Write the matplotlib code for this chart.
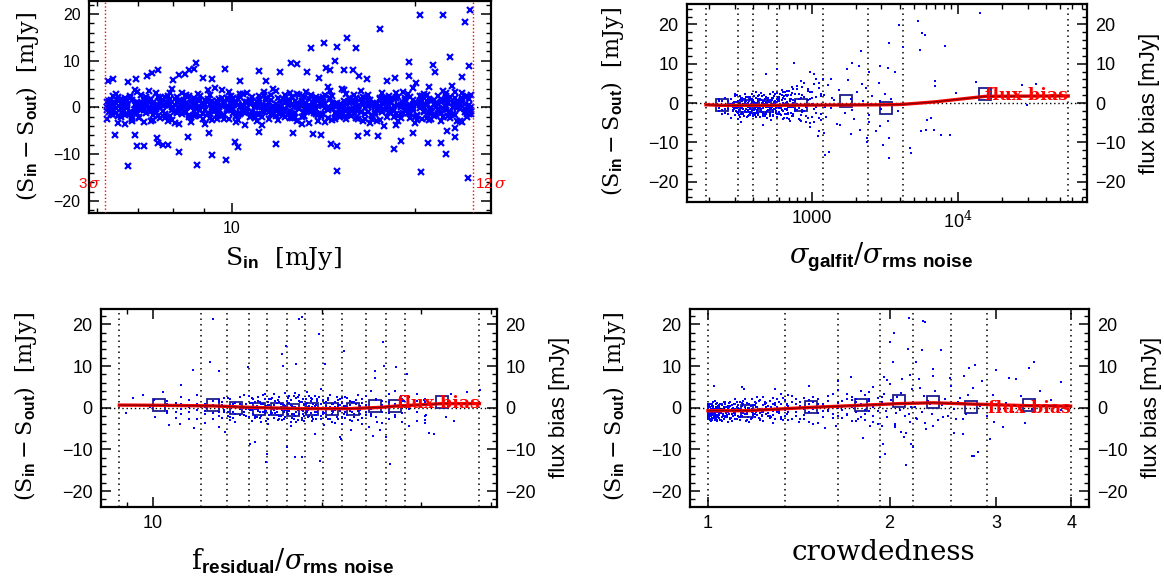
import numpy as np
import matplotlib
matplotlib.use('Agg')
import matplotlib.pyplot as plt
from matplotlib.ticker import FixedLocator, FixedFormatter, NullFormatter, MultipleLocator

plt.rcParams['font.family'] = ['Liberation Sans', 'DejaVu Sans']
plt.rcParams['mathtext.fontset'] = 'custom'
plt.rcParams['mathtext.rm'] = 'DejaVu Serif'
plt.rcParams['mathtext.it'] = 'DejaVu Serif:italic'
plt.rcParams['mathtext.sf'] = 'Liberation Sans:bold'
plt.rcParams['mathtext.bf'] = 'DejaVu Serif:bold'

# ---------------- Panel 1 : S_in vs (S_in - S_out) ----------------
p1_sigma_lines = [6.19, 24.9]
p1_sigma_labels = ['3$\\,\\sigma$', '12$\\,\\sigma$']

p1_xa = [6.22,6.33,6.44,6.56,6.67,6.79,6.92,7.04,7.17,7.3,
         7.43,7.56,7.7,7.84,7.98,8.12,8.27,8.42,8.57,8.72,
         8.88,9.04,9.2,9.37,9.54,9.71,9.88,10.06,10.24,10.43,
         10.61,10.8,11.0,11.2,11.4,11.6,11.81,12.02,12.24,12.46,
         12.69,12.92,13.15,13.39,13.63,13.87,14.12,14.38,14.64,14.9,
         15.17,15.44,15.72,16.0,16.29,16.59,16.89,17.19,17.5,17.82,
         18.14,18.47,18.8,19.14,19.48,19.84,20.19,20.56,20.93,21.31,
         21.69,22.08,22.48,22.89,23.3,23.72,24.15,24.58]
p1_ya1 = [1.2,-0.8,2.9,-2.1,0.3,-1.5,3.8,0.9,-3.2,1.7,
          -0.4,2.2,-1.9,0.6,-2.7,1.1,3.1,-0.9,0.2,-1.6,
          2.5,-3.5,0.8,-0.2,1.9,-2.4,3.3,-1.1,0.5,2.8,
          -0.7,1.4,-2.9,0.1,2.1,-1.3,3.6,-0.5,1.0,-2.2,
          0.4,2.6,-1.8,-0.1,1.6,-3.0,2.3,-0.6,0.9,-1.4,
          3.9,-2.5,1.3,0.0,-1.0,2.0,-3.3,0.7,1.8,-0.3,
          2.4,-2.0,0.5,3.4,-1.2,1.5,-2.6,0.3,2.7,-0.8,
          -1.7,1.1,3.0,-2.3,0.6,-0.4,2.2,-1.5]
p1_ya2 = [-2.4,0.7,-1.1,1.8,-3.6,2.4,-0.3,-2.0,0.9,3.5,
          -1.6,0.2,1.5,-2.8,3.9,-0.9,-0.2,2.6,-3.1,1.0,
          -0.5,1.6,-2.3,4.2,-1.4,0.8,-0.6,2.1,-2.6,0.0,
          3.2,-1.9,1.2,-3.7,0.5,2.7,-0.8,1.4,-2.1,3.0,
          -1.2,-0.1,2.3,-3.4,0.9,1.7,-1.5,4.4,-2.7,0.4,
          -0.9,2.9,-1.8,1.1,3.6,-2.4,0.6,-1.0,2.0,-3.9,
          0.3,1.9,-2.9,0.8,-0.4,4.1,-1.6,2.5,-2.2,1.3,
          0.1,-3.0,2.4,-1.0,3.4,-2.8,0.7,1.8]
p1_ya3 = [0.2,-1.4,1.0,-0.3,2.0,-0.9,0.6,-2.2,1.5,-0.1,
          0.9,-1.8,0.3,2.4,-0.6,-1.2,1.3,0.0,-2.0,0.8,
          1.7,-0.5,-1.5,0.4,-0.8,1.1,-2.4,0.7,1.9,-1.0,
          -0.2,2.2,-1.3,0.5,-0.6,1.6,-1.9,0.2,-0.4,1.3,
          -2.1,0.8,-0.9,1.9,0.1,-1.6,0.6,-0.3,2.5,-1.1,
          0.3,-0.7,1.2,-2.3,1.8,-0.2,0.9,-1.5,0.1,2.1,
          -0.9,0.4,-1.8,1.0,2.8,-0.5,0.7,-2.5,1.4,-0.1,
          1.0,-1.2,0.2,2.3,-1.7,0.9,-0.4,0.5]
p1_ya4 = [-0.6,1.5,-0.2,0.8,-1.7,2.1,-1.0,0.3,-0.5,1.2,
          -2.6,0.6,-0.7,1.0,0.2,2.3,-1.5,0.9,1.4,-0.3,
          -1.9,0.5,2.7,-0.8,0.1,-1.6,1.8,-0.4,-1.3,0.6,
          1.1,-0.9,0.4,-2.0,1.7,-0.2,0.8,-1.4,2.6,-0.7,
          1.4,-0.3,-1.9,0.6,-1.2,0.3,1.9,-2.2,-0.1,1.0,
          -1.5,0.7,-0.4,2.0,-0.9,-1.3,1.5,0.2,-2.7,0.8,
          1.6,-0.6,2.2,-1.1,0.4,-0.2,-1.8,1.3,0.5,-2.4,
          0.0,1.8,-0.5,-1.4,2.0,0.6,-1.0,-0.3]
p1_xb = [6.27,6.38,6.5,6.61,6.73,6.85,6.98,7.1,7.23,7.36,
         7.5,7.63,7.77,7.91,8.05,8.2,8.35,8.5,8.65,8.8,
         8.96,9.12,9.29,9.45,9.62,9.8,9.97,10.15,10.33,10.52,
         10.71,10.9,11.1,11.3,11.5,11.71,11.92,12.13,12.35,12.58,
         12.8,13.03,13.27,13.51,13.75,14.0,14.25,14.51,14.77,15.04,
         15.3,15.58,15.86,16.15,16.44,16.74,17.04,17.35,17.66,17.98,
         18.3,18.63,18.97,19.31,19.66,20.01,20.37,20.74,21.12,21.5,
         21.88,22.28,22.68,23.09,23.51,23.93,24.36,24.78]
p1_yb1 = [0.4,-1.7,2.2,-0.6,1.3,-2.9,0.9,2.7,-1.2,-0.2,
          3.1,-2.3,0.6,1.8,-3.4,0.2,-1.0,2.4,-0.7,1.5,
          -2.5,3.7,0.1,-1.6,2.0,-0.4,1.2,-3.2,2.9,-1.1,
          0.7,-2.0,1.6,3.3,-0.9,0.3,-2.7,1.9,0.5,-1.5,
          2.8,-3.6,1.0,-0.3,2.3,-1.8,0.8,3.5,-2.4,0.0,
          1.4,-1.3,2.6,-0.8,-2.9,1.7,0.4,-0.5,3.2,-2.1,
          1.1,-3.8,0.6,2.1,-1.4,0.9,-0.1,2.8,-2.6,1.5,
          -0.6,3.6,-1.9,0.2,1.3,-3.1,2.5,-0.7]
p1_yb2 = [-1.0,2.5,-3.3,1.6,0.1,-2.2,3.4,-0.4,1.2,-2.8,
          0.5,2.0,-1.5,3.0,-0.7,-3.5,1.7,0.3,-1.9,2.8,
          0.9,-1.1,-2.6,1.4,3.7,-0.5,0.7,-1.8,2.2,-3.8,
          1.5,0.2,-1.3,2.6,-2.4,4.0,-0.2,-1.7,1.1,2.3,
          -2.9,0.6,3.3,-1.0,-0.3,1.8,-3.2,2.1,0.4,-2.0,
          3.8,-0.6,1.3,-2.5,0.8,2.7,-1.6,-3.0,1.0,0.2,
          -1.2,3.1,-2.3,1.6,0.5,-3.4,2.4,-0.9,4.3,-1.8,
          0.7,-2.1,1.9,0.0,-2.9,3.2,-1.4,2.6]
p1_yb3 = [1.3,-0.4,-1.9,0.7,-0.1,1.6,-1.2,0.2,2.3,-0.8,
          -0.3,1.1,-2.2,0.5,1.9,-0.7,0.8,-1.6,2.1,-0.2,
          0.6,-1.1,1.4,-2.5,0.3,2.0,-0.6,0.9,-1.4,1.2,
          -2.1,0.1,2.4,-0.9,1.0,-1.7,0.4,-0.5,1.6,-2.3,
          0.2,1.3,-0.8,2.6,-1.5,0.5,-0.2,1.8,-1.2,0.7,
          -2.0,1.0,-0.4,0.3,2.2,-1.0,-1.9,0.8,-0.6,1.5,
          -0.3,2.0,-1.4,0.1,-2.2,1.2,0.6,-0.7,1.9,-1.6,
          2.4,-0.1,0.9,-1.3,0.4,1.7,-2.0,0.2]
p1_yb4 = [-0.2,0.9,1.7,-1.3,0.5,-2.4,1.1,-0.6,0.3,1.8,
          -1.0,-0.1,2.2,-1.8,0.6,1.3,-0.5,-2.1,0.8,0.0,
          -1.4,1.9,-0.3,0.7,-1.9,0.4,2.5,-1.2,0.1,-0.7,
          1.5,-2.3,0.9,-0.4,1.2,-1.1,2.0,-0.8,-1.6,0.5,
          1.0,-2.0,0.2,-0.6,1.6,-1.3,2.7,-0.2,0.8,-1.7,
          0.4,2.1,-1.1,-0.5,1.3,0.3,-2.4,1.0,-0.9,0.6,
          1.9,-1.5,0.0,-0.8,2.3,-2.0,1.1,0.2,-1.2,0.7,
          -0.4,1.4,-1.9,0.9,-0.2,2.1,-0.6,-1.4]
p1_out_x = [6.74,8.75,9.77,9.27,8.18,6.99,7.17,7.7,7.84,10.25,
            10.11,11.8,14.87,14.9,14.55,18.5,19.0,20.5,22.5,22.1,
            21.0,24.5,23.3,22.6,17.4,16.1,14.0,13.6,12.6,11.1,
            9.16,7.57,7.52,8.47,6.42,6.93,16.66,19.85,23.3,
            20.4,22.3,24.7,24.2,17.5,15.5,14.2,13.5,16.0,14.9,
            22.9,21.4,19.6,24.6,14.8,15.8,15.3,14.3,14.5,12.5,
            12.8,11.1,12.0,9.76,8.72,8.67,8.5,13.3,21.6,23.9,
            19.6,16.2,16.7,13.9,8.36,7.55,7.38,8.2,8.95,9.26,
            7.24,8.0,6.75,6.37,6.26,6.95,10.3,11.4,17.97,18.56,
            20.1,23.05]
p1_out_y = [-12.6,-12.3,-11.3,-10.1,-9.6,-8.2,-8.2,-8.0,-8.1,-8.5,
            -7.3,-7.8,-13.6,-8.2,-7.8,-8.8,-7.1,-13.9,-9.9,-7.7,
            -7.7,-15.2,-6.3,-5.0,-6.1,-6.1,-5.8,-5.6,-5.5,-5.2,
            -5.5,-7.6,-6.5,-6.4,-6.0,-5.8,-5.4,-5.5,-4.5,
            19.8,19.9,20.9,18.3,16.8,14.9,13.8,12.8,12.8,13.0,
            10.9,9.2,9.8,8.9,9.9,8.0,8.0,8.5,8.0,9.5,
            9.4,7.8,7.6,8.3,9.6,8.3,8.0,7.6,7.7,6.6,
            6.7,6.7,6.1,6.3,7.1,8.0,7.3,7.0,6.3,6.2,
            6.8,5.9,5.5,6.1,5.7,6.1,5.7,5.6,5.7,6.3,
            5.2,4.7]

# ---------------- Panel 2 : sigma_galfit / sigma_rms ----------------
p2_cx = [232,245,258,268,280,290,300,308,316,325,
         333,342,350,358,366,374,382,390,398,407,
         416,425,434,444,454,464,474,485,496,507,
         518,530,542,555,568,582,596,611,626,642,
         658,675,693,712,731,751,772,794,817,841,
         866,892,919,948,978,1010,1045,1080,1120,1160]
p2_y1 = [-1.2,0.4,-2.5,-0.3,1.1,-1.9,-3.1,0.2,-0.9,1.8,
         -2.2,-0.6,0.9,-1.5,-3.4,0.6,-1.0,2.3,-2.8,-0.2,
         1.4,-1.7,-0.5,-3.6,0.8,-1.3,2.0,-2.4,-0.1,1.2,
         -3.0,-0.8,2.7,-1.6,0.3,-2.9,1.6,-0.4,3.2,-2.0,
         0.9,-3.8,2.1,-1.1,4.2,-2.7,0.5,3.5,-4.1,1.4,
         -1.9,5.2,-3.3,0.7,-5.0,2.9,-1.6,6.1,-3.9,1.8]
p2_y2 = [0.5,-1.8,-0.4,-2.7,0.9,-1.1,1.7,-2.3,-0.6,-3.5,
         0.4,-1.4,2.4,-0.2,-2.0,1.3,-3.0,-0.7,0.8,-1.8,
         -2.6,0.1,1.9,-1.2,-0.4,-3.2,0.6,1.5,-2.1,-0.9,
         2.2,-1.5,-3.4,0.3,-0.6,2.5,-2.2,-1.0,0.7,-4.0,
         2.8,-0.3,-2.5,1.0,-3.3,3.6,-1.4,-0.2,2.3,-4.6,
         4.0,-2.0,-0.6,3.1,-6.2,1.2,4.8,-2.6,-7.0,2.4]
p2_y3 = [-2.0,-0.5,1.3,-1.6,-3.8,0.0,-0.8,2.1,-2.6,0.7,
         -1.3,-2.9,0.3,1.5,-0.9,-2.3,0.9,-1.7,-3.3,1.9,
         -0.3,-2.0,0.6,-1.0,2.6,-2.8,-0.5,0.2,-3.9,1.0,
         -1.2,0.8,-2.4,1.9,-0.7,-3.6,0.4,2.4,-1.8,-0.3,
         -2.9,1.7,-0.9,-4.5,2.6,0.1,-2.1,4.4,-1.2,-3.0,
         2.1,-0.4,-4.8,3.6,1.0,-3.5,7.5,-1.0,3.9,-4.4]
p2_y4 = [1.0,-2.9,-1.4,0.6,-0.2,-2.1,2.4,-1.3,-4.0,0.1,
         1.2,-0.7,-2.1,-0.4,1.6,-3.1,-1.5,0.5,-0.8,-2.5,
         2.9,-1.0,-3.0,0.9,-1.7,0.3,-2.7,1.2,-0.6,-1.9,
         0.5,-4.3,1.4,-0.3,-2.0,1.1,-1.3,-2.7,2.0,-0.1,
         -1.6,3.0,-2.8,0.4,-0.9,-3.1,2.2,-1.8,0.9,5.6,
         -2.4,1.6,-1.0,-3.8,2.7,-0.2,-4.9,1.5,5.0,-2.8]
p2_dx = [295,304,312,320,329,337,346,354,362,370,
         378,386,394,402,411,420,429,439,449,459,
         469,479,490,501,512,524,536,548,561,575,
         589,603,618,634,650,667,684,702,721,741]
p2_d1 = [-1.6,0.3,-2.4,-0.7,1.2,-1.1,-3.2,0.5,-0.3,-1.9,
         1.5,-2.6,-0.8,0.2,-1.4,-3.5,0.9,-0.5,-2.1,1.8,
         -1.2,-0.2,-2.8,0.6,-1.7,2.3,-0.9,-3.0,0.4,-1.3,
         1.6,-2.2,-0.4,2.7,-3.7,0.0,-1.5,3.1,-2.5,0.8]
p2_d2 = [0.2,-2.0,-0.6,-3.1,-1.3,0.7,-0.2,-2.4,1.6,-0.9,
         -2.8,-0.3,1.0,-1.6,-3.0,0.1,-1.2,2.0,-0.7,-2.3,
         0.5,-3.3,-1.0,1.3,-0.4,-2.6,0.8,-1.8,2.4,-0.5,
         -2.9,1.1,-1.2,-0.3,1.9,-2.7,0.3,-4.1,2.0,-1.1]
p2_d3 = [-0.9,-1.3,0.6,-1.9,-2.7,-0.4,1.1,-1.5,-3.6,0.0,
         -0.6,-2.2,0.3,1.7,-1.1,-0.7,-2.6,0.8,-1.5,-0.1,
         -2.4,1.0,-0.8,-1.9,0.2,-3.4,1.4,-0.3,-1.4,-2.5,
         0.6,-0.7,-3.1,1.2,-0.2,2.0,-1.9,-0.5,1.1,-3.2]
p2_mid_x = [1210,1260,1300,1350,1420,1480,1550,1620,1700,1780,
            1860,1950,2050,2150,2250,2350,2480,2600,2740,2880,
            3000,3150,3300,3500,3700,3900,1240,1380,1650,1900,
            2200,2550,2950,3400]
p2_mid_y = [2.1,-3.5,4.6,-1.2,0.8,-5.4,3.2,-0.7,-2.6,5.8,
            1.1,-4.0,2.9,-6.8,0.4,3.7,-3.1,1.8,-7.2,5.0,
            -1.6,2.4,-4.6,0.9,7.8,-2.0,-1.0,1.4,-0.5,-1.8,
            4.8,-0.3,0.6,-8.8]
p2_out_x = [14230,5335,3980,5720,5955,3363,4235,8130,5460,2168,
            757,1876,2118,2944,3343,2476,1750,982,1189,1349,
            492,585,6920,6990,9620,13210,27200,34300,29650,6530,
            6170,6060,6880,5560,7630,8810,4673,4810,3064,3363,
            2377,2406,1239,1312,1104,1217,1854,2911,2476,1560,
            836,328,464]
p2_out_y = [23.0,21.0,19.9,17.8,17.4,15.4,14.3,14.4,13.6,13.3,
            10.1,10.2,9.5,9.3,9.0,7.9,8.7,7.9,6.1,6.0,
            7.4,8.7,5.5,4.4,2.5,5.3,4.7,4.9,-0.4,-3.9,
            -4.3,-6.9,-6.9,-7.0,-8.1,-8.1,-11.5,-12.8,-10.8,-14.1,
            -9.0,-10.0,-13.2,-12.4,-8.5,-7.7,-7.9,-5.9,-4.9,-5.6,
            -4.3,-4.8,-5.6]
p2_edges = [190,315,397,585,1204,2433,4208,56600]
p2_sq_x = [243,355,480,841,1719,3215,15400]
p2_sq_y = [-0.6,-0.8,-0.8,-0.5,0.5,-1.2,2.2]
p2_bias_x = [190,243,355,480,841,1719,3215,4200,7000,9800,15400,56600]
p2_bias_y = [-0.45,-0.6,-0.6,-0.6,-0.55,-0.5,-0.45,-0.35,0.3,0.9,1.7,1.8]

# ---------------- Panel 3 : f_residual / sigma_rms ----------------
p3_cx = [12.4,12.8,13.1,13.4,13.7,14.0,14.3,14.5,14.8,15.0,
         15.2,15.4,15.6,15.8,16.0,16.2,16.4,16.6,16.8,17.0,
         17.2,17.4,17.6,17.8,18.0,18.2,18.4,18.6,18.8,19.0,
         19.2,19.4,19.6,19.9,20.2,20.5,20.8,21.1,21.4,21.7,
         22.0,22.4,22.8,23.2,23.6,24.0,24.5,25.0,25.6,26.3,
         11.2,11.6,12.0,27.0,27.8,28.6,29.5,11.0,30.5,10.6]
p3_y1 = [0.8,-1.2,1.9,-0.5,-2.3,0.4,2.6,-1.7,0.1,-3.1,
         1.4,-0.8,-2.0,2.2,0.6,-1.4,3.3,-0.2,-2.7,1.0,
         -0.6,2.4,-3.5,0.3,-1.1,1.7,-2.4,0.9,3.8,-1.9,
         0.2,-0.9,2.0,-2.8,1.2,-0.4,-3.3,1.5,0.5,-2.1,
         2.6,-0.7,-1.6,3.0,-2.5,0.7,-0.2,2.1,-3.6,1.3,
         2.5,-1.1,0.9,-2.2,1.6,-0.3,3.4,1.1,-1.9,0.4]
p3_y2 = [-1.5,0.6,-0.9,2.4,-3.0,1.1,-1.8,0.2,2.9,-0.6,
         -2.4,1.6,0.0,-1.3,-3.8,2.0,-0.5,1.2,-2.0,-0.1,
         3.6,-1.5,0.7,-2.7,2.3,-0.3,1.4,-3.2,-0.9,0.5,
         -2.2,2.8,-1.1,0.9,-4.2,1.8,-0.8,0.3,-2.6,2.4,
         -1.0,-3.0,1.3,-0.5,2.2,-1.7,4.1,-2.3,0.6,-1.2,
         -0.4,1.9,-2.8,0.8,-3.4,2.6,-0.9,-2.5,1.4,0.9]
p3_y3 = [0.3,-2.6,1.4,-0.9,0.7,-1.6,-0.2,3.1,-2.2,1.2,
         -0.4,2.7,-3.3,-0.7,1.5,0.2,-2.4,-1.0,2.5,-3.0,
         0.4,-0.8,1.8,-1.6,-3.4,3.0,-0.5,-2.0,1.1,-0.2,
         2.1,-1.7,-0.3,4.4,-1.3,-2.7,0.8,-0.6,1.9,-3.8,
         0.5,1.6,-2.1,-0.8,-4.0,2.9,-1.4,0.3,1.7,-2.6,
         -1.4,0.2,3.0,-1.7,2.0,-4.4,1.6,0.6,-2.9,-0.8]
p3_y4 = [-0.7,1.7,-2.0,0.5,2.1,-3.5,1.0,-1.1,-0.4,2.3,
         -1.9,-0.3,0.9,3.4,-2.8,-0.9,0.6,-1.8,1.3,-0.5,
         -2.2,1.1,-4.3,2.8,0.0,-1.4,-2.9,0.7,-0.6,2.9,
         -3.1,0.4,1.6,-1.9,-0.2,2.3,-1.5,-3.6,0.8,1.1,
         -2.4,0.6,-0.4,-2.9,1.2,-0.9,-2.0,1.8,-1.1,3.3,
         0.8,-2.6,-0.6,4.0,-1.2,0.5,-3.2,-1.0,2.2,1.7]
p3_dx = [14.65,14.9,15.1,15.3,15.5,15.7,15.9,16.1,16.3,16.5,
         16.7,16.9,17.1,17.3,17.5,17.7,17.9,18.1,18.3,18.5,
         18.7,18.9,19.1,19.3,19.5,19.75,20.05,20.35,20.65,20.95,
         21.25,21.55,21.85,22.2,22.6,13.25,13.9,23.0,23.4,13.6]
p3_d1 = [-0.3,1.2,-1.6,0.4,-2.5,0.9,-0.8,2.2,-1.3,0.0,
         1.8,-2.0,0.6,-0.5,2.9,-1.4,0.2,-3.0,1.4,-0.7,
         0.8,-2.3,1.6,-0.2,-1.8,2.5,-0.9,0.5,-2.6,1.0,
         -0.4,2.0,-1.5,0.3,-3.2,0.7,-1.1,1.9,-0.6,-2.0]
p3_d2 = [1.0,-0.6,0.3,-2.1,1.5,-0.9,-3.1,0.6,2.4,-1.2,
         -0.1,0.9,-2.6,1.7,-0.8,0.4,-1.9,2.7,-0.3,-1.5,
         2.0,0.1,-1.2,-2.8,0.7,-0.4,1.8,-2.2,0.2,-1.0,
         2.6,-0.7,0.5,-1.8,1.3,-2.4,0.8,-0.2,-1.4,2.3]
p3_d3 = [-1.9,0.2,2.0,-0.4,-1.1,3.0,0.5,-1.7,-0.2,1.6,
         -2.9,0.3,-1.0,-0.3,1.1,-2.4,3.5,-0.6,0.0,2.1,
         -1.3,-0.5,2.3,1.0,-2.7,-0.1,-1.6,1.3,3.1,-0.8,
         -2.2,0.6,-0.3,2.4,-1.0,1.5,-2.5,0.9,0.4,-0.9]
p3_out_x = [12.8,18.44,18.19,19.73,25.7,17.29,16.96,21.87,12.64,14.75,
            17.03,11.8,13.11,17.96,20.27,24.87,25.8,27.04,28.4,24.9,
            11.2,10.4,9.58,10.03,9.88,10.1,10.6,11.18,10.7,11.84,
            12.4,8.95,9.22,30.6,33.2,34.4,30.5,30.97,31.7,33.9,
            36.3,38.2,30.4,26.4,26.0,25.06,24.3,15.97,15.9,14.87,
            15.2,17.3,17.88,18.45,19.8,21.5,21.6,13.43,13.1,24.66,
            22.5,19.4,27.6,28.0,25.4]
p3_out_y = [21.2,21.9,21.2,17.7,15.9,14.8,12.8,13.6,11.0,9.8,
            10.0,9.0,8.8,10.6,10.4,8.8,10.0,9.8,8.2,7.1,
            5.4,3.8,3.0,1.8,0.1,-2.1,-1.3,-3.9,-4.1,-4.9,
            -3.6,-1.3,2.3,-1.7,-2.1,-3.1,-3.6,-6.0,-6.3,3.4,
            3.8,4.2,1.8,-13.4,-7.0,-3.3,-4.5,-11.0,-13.0,-8.6,
            -8.2,-9.4,-11.8,-11.8,-12.8,-7.0,-7.4,-5.8,-4.6,-6.7,
            -5.4,-6.2,2.8,1.7,-5.4]
p3_edges = [8.71,12.19,13.54,14.82,15.96,17.31,18.66,20.1,21.68,23.92,25.99,28.12,38.15]
p3_sq_x = [10.27,12.81,14.06,15.47,16.6,17.76,19.2,20.8,22.73,24.9,27.0,32.7]
p3_sq_y = [0.65,0.65,-0.15,-0.3,-0.4,-0.5,-0.4,-0.4,-0.4,0.4,0.4,1.3]
p3_bias_x = [8.71,10.27,12.8,14.9,18.3,22.4,25.4,27.0,32.7,38.15]
p3_bias_y = [0.65,0.6,0.45,0.1,-0.2,-0.2,0.1,0.4,1.0,1.0]

# ---------------- Panel 4 : crowdedness ----------------
p4_cx = [1.0,1.003,1.007,1.01,1.014,1.018,1.022,1.027,1.032,1.037,
         1.042,1.048,1.054,1.06,1.066,1.073,1.08,1.087,1.095,1.103,
         1.111,1.12,1.13,1.14,1.15,1.16,1.171,1.183,1.195,1.208,
         1.221,1.235,1.25,1.265,1.28,1.3,1.32,1.34,1.36,1.38,
         1.40,1.42,1.445,1.47,1.495,1.52,1.55,1.58,1.61,1.64,
         1.67,1.70,1.73,1.76,1.79,1.82,1.85,1.88,1.91,1.94]
p4_y1 = [-0.5,-2.1,0.8,-1.4,-2.8,0.3,-1.0,1.6,-2.4,-0.2,
         -1.7,0.9,-3.1,-0.6,1.3,-1.9,-0.1,-2.6,0.6,-1.2,
         2.0,-0.8,-2.3,0.4,-1.5,1.1,-3.3,-0.4,0.7,-1.8,
         1.8,-1.0,0.2,-2.5,2.4,-0.6,1.0,-1.9,3.0,-0.3,
         0.8,-2.8,2.3,-0.9,1.5,-3.6,0.4,2.9,-1.4,1.2,
         -2.4,3.4,0.1,-1.0,4.0,-2.9,1.7,0.3,-3.8,2.5]
p4_y2 = [-1.8,0.2,-1.1,-3.2,0.5,-0.7,-2.2,-1.4,0.9,-2.9,
         0.1,-1.3,-0.3,-2.0,1.0,-0.9,-3.5,0.4,-1.6,-0.5,
         -2.7,0.7,-0.2,-1.9,2.1,-0.9,-0.1,-2.4,1.4,-0.6,
         -2.8,0.6,-1.4,1.6,-0.7,2.2,-2.1,0.0,-3.0,1.3,
         -1.1,0.5,-2.6,1.9,-0.4,0.9,-2.2,-0.8,3.3,-0.1,
         1.6,-1.7,2.6,-3.1,0.7,-0.6,3.7,-2.0,1.0,-4.3]
p4_y3 = [0.4,-1.2,-2.7,0.9,-0.4,-1.8,-0.2,-3.0,-0.9,1.1,
         -2.4,-0.5,0.6,-1.6,-2.2,0.2,-1.1,1.4,-3.2,-0.7,
         -0.3,-2.0,1.5,-1.3,-0.6,-2.9,0.8,-0.9,-1.6,2.5,
         -0.2,-3.1,1.1,-0.5,-1.7,0.3,-2.6,1.8,-0.9,2.8,
         -1.9,1.4,-0.3,-3.3,2.6,-1.2,1.0,-0.5,-2.5,4.2,
         0.2,-1.4,1.9,2.2,-2.2,3.0,-0.8,-3.4,2.4,0.6]
p4_y4 = [-1.0,0.7,-1.9,-0.6,-2.5,1.5,-1.6,-0.3,-2.1,0.3,
         -1.1,-3.0,0.9,-0.2,-1.9,-1.0,0.5,-2.5,-0.4,0.9,
         -1.7,-0.1,-2.9,1.2,0.3,-1.4,-0.8,2.0,-2.2,0.1,
         -1.2,2.7,-0.3,-2.0,0.9,-1.1,3.4,-0.6,0.4,-2.7,
         2.0,-0.1,-1.7,1.0,-3.9,2.1,-0.7,1.6,0.5,-2.0,
         -0.5,2.2,-3.2,1.3,0.9,-1.5,2.0,5.1,-0.7,1.5]
p4_dx = [1.0,1.0,1.002,1.005,1.009,1.012,1.016,1.02,1.025,1.03,
         1.035,1.04,1.045,1.051,1.057,1.063,1.07,1.077,1.084,1.091,
         1.099,1.107,1.116,1.125,1.135,1.145,1.155,1.166,1.177,1.189,
         1.2,1.214,1.228,1.243,1.258,1.274,1.29,1.31,1.33,1.35]
p4_d1 = [-1.3,0.9,-0.4,-2.3,0.1,-1.0,-2.9,0.5,-0.8,-1.7,
         1.2,-2.1,-0.2,-1.2,0.7,-2.7,-0.5,0.3,-1.5,-2.4,
         0.0,-1.1,1.4,-0.6,-2.0,0.8,-1.4,-0.1,-2.6,0.6,
         -0.9,1.7,-1.8,-0.3,0.4,-2.2,1.1,-0.7,2.3,-1.6]
p4_d2 = [-2.2,-0.7,0.4,-1.5,-3.0,-0.2,1.0,-1.2,-2.5,0.3,
         -0.9,-1.8,0.7,-2.9,-0.4,1.3,-1.3,-2.2,0.2,-0.6,
         -1.9,0.9,-2.8,-0.3,-1.1,1.6,-0.8,-2.3,0.4,-1.5,
         1.2,-0.5,-2.0,0.9,-1.2,0.1,-2.6,1.5,-0.4,0.6]
p4_d3 = [0.6,-1.6,-2.6,0.2,-0.9,-1.9,0.8,-0.4,-2.0,-1.1,
         -3.1,0.4,-1.4,-0.6,-2.2,0.1,-0.9,-1.8,1.1,-2.5,
         -0.7,-1.5,0.3,-2.2,-0.5,-1.2,-3.2,0.9,-0.8,-1.7,
         0.2,-2.4,-1.0,1.3,-1.9,-0.6,0.7,-1.3,-3.0,1.0]
p4_mid_x = [1.96,1.98,2.0,2.02,2.04,2.06,2.08,2.1,2.12,2.14,
            2.16,2.18,2.2,2.22,2.24,2.26,2.28,2.3,2.32,2.35,
            2.38,2.41,2.44,2.47,2.5,2.53,2.56,2.6,2.65,2.7,
            1.97,2.01,2.05,2.09,2.13,2.17,2.21,2.25,2.29,2.33,
            2.62,2.68,2.75,2.82,2.9,2.97,3.05,3.12,3.2,3.3,
            3.45,3.55,3.7,3.85]
p4_mid_y = [3.4,-2.1,5.6,0.8,-4.2,2.5,-0.6,6.8,-1.9,1.2,
            -3.5,4.5,0.3,-2.8,7.0,-0.9,2.9,-5.0,1.7,-1.4,
            4.1,-3.0,0.6,2.2,-2.0,5.3,-0.4,1.5,-2.7,3.1,
            -0.8,1.9,-1.3,3.6,-6.0,0.2,-2.4,4.8,-3.7,1.0,
            2.4,-1.5,4.8,0.5,-2.0,3.0,-0.4,1.2,-1.0,2.8,
            -0.2,4.0,1.8,-0.6]
p4_out_x = [2.15,2.276,2.29,2.034,2.005,2.148,2.265,2.437,2.213,2.026,
            3.467,3.404,3.15,3.24,3.0,3.85,2.77,2.707,2.66,2.848,
            2.518,2.363,2.36,2.158,1.955,1.983,1.723,1.645,1.473,1.147,
            1.023,1.14,1.293,3.357,2.98,3.086,2.93,2.74,2.8,2.757,
            2.554,2.645,2.577,2.363,2.127,2.167,2.188,2.092,2.112,1.95,
            1.928,1.963,1.81,2.04,2.04,2.15,1.854,1.629,1.563,1.773,
            1.283,1.222,1.416,2.448]
p4_out_y = [21.6,20.8,20.5,18.0,15.9,14.1,13.9,13.9,11.0,11.0,
            11.0,9.6,7.2,6.8,9.0,6.3,10.2,9.6,7.7,6.4,
            7.2,9.2,7.7,7.9,7.5,6.7,7.5,6.4,5.2,4.4,
            5.3,5.0,4.6,-3.7,-3.5,-4.5,-7.4,-11.6,-10.5,-11.6,
            -6.0,-6.4,-2.8,-4.4,-13.8,-8.6,-9.4,-5.7,-6.9,-8.6,
            -11.8,-11.2,-7.3,-4.0,-4.7,-1.6,-4.4,-4.4,-4.8,-2.6,
            -3.7,-2.9,-3.4,-2.2]
p4_edges = [1.0,1.34,1.64,1.93,2.19,2.53,2.90,3.99]
p4_sq_x = [1.159,1.483,1.79,2.07,2.36,2.73,3.41]
p4_sq_y = [-0.7,0.1,0.65,1.6,1.45,0.1,0.65]
p4_bias_x = [1.0,1.16,1.48,1.79,2.07,2.36,2.73,3.41,3.99]
p4_bias_y = [-0.7,-0.7,0.1,0.6,1.0,1.2,0.9,0.5,0.4]

# ---------------- figure ----------------
W, H = 1164, 584
fig = plt.figure(figsize=(W/100, H/100), dpi=100)

def add_ax(l, t, r, b):
    return fig.add_axes([l/W, (H-b)/H, (r-l)/W, (b-t)/H]), (l, t, r, b)

def frac(rect, px, py):
    l, t, r, b = rect
    return (px-l)/(r-l), (b-py)/(b-t)

BLUE = '#0000ff'
NAVY = '#1c1c8c'
serif = 'DejaVu Serif'
ylab = r'$(\mathrm{S}_{\mathsf{in}}-\mathrm{S}_{\mathsf{out}})$  [mJy]'

def style(ax, xlim, ylim, major, majlab, minor, tfs):
    ax.set_xscale('log')
    ax.set_xlim(*xlim)
    ax.set_ylim(*ylim)
    ax.xaxis.set_major_locator(FixedLocator(major))
    ax.xaxis.set_major_formatter(FixedFormatter(majlab))
    ax.xaxis.set_minor_locator(FixedLocator(minor))
    ax.xaxis.set_minor_formatter(NullFormatter())
    ax.yaxis.set_major_locator(MultipleLocator(10))
    ax.yaxis.set_minor_locator(MultipleLocator(2))
    ax.tick_params(which='both', direction='in', top=True, right=True,
                   labelsize=tfs, pad=6)
    ax.tick_params(which='major', length=7, width=1.1)
    ax.tick_params(which='minor', length=3.5, width=1.0)
    for s in ax.spines.values():
        s.set_linewidth(1.6)
    ax.axhline(0, color='k', ls=(0, (1, 2)), lw=1.0, zorder=1)

def labels(ax, rect, xl, xfs, xpos, ypos, rpos=None):
    ax.set_xlabel(xl, fontsize=xfs, family=serif)
    ax.xaxis.set_label_coords(*frac(rect, *xpos))
    ax.xaxis.label.set_va('center')
    ax.set_ylabel(ylab, fontsize=16, family=serif)
    ax.yaxis.set_label_coords(*frac(rect, *ypos))
    ax.yaxis.label.set_va('center')
    if rpos is not None:
        fx, fy = frac(rect, *rpos)
        ax.text(fx, fy, 'flux bias [mJy]', transform=ax.transAxes, rotation=90,
                ha='center', va='center', fontsize=16)
        ax.tick_params(labelright=True)

def bias_layer(ax, edges, sqx, sqy, bx, by, tx, ty):
    for e in edges:
        ax.axvline(e, color='k', ls=(0, (1, 2.6)), lw=1.1, zorder=1)
    ax.plot(sqx, sqy, 's', mfc='none', mec=NAVY, ms=8, mew=1.3, zorder=1.8)
    ax.plot(bx, by, '-', color='red', lw=2.4, zorder=3)
    ax.plot(bx, by, '-', color='#8b0000', lw=1.0, zorder=3.1)
    ax.text(tx, ty, 'flux bias', color='red', family=serif, fontweight='bold',
            fontsize=12.5, ha='right', va='center', zorder=4)

def dots(ax, xs, ys):
    ax.plot(xs, ys, 's', color=BLUE, ms=1.9, mew=0, ls='none', zorder=2)

# Panel 1
ax1, r1 = add_ax(89, 1, 491, 213)
style(ax1, (5.82, 26.7), (-22.6, 22.8), [10], ['10'], [6, 7, 8, 9, 20], 11.5)
for xs, ys in [(p1_xa, p1_ya1), (p1_xa, p1_ya2), (p1_xa, p1_ya3), (p1_xa, p1_ya4),
               (p1_xb, p1_yb1), (p1_xb, p1_yb2), (p1_xb, p1_yb3), (p1_xb, p1_yb4),
               (p1_out_x, p1_out_y)]:
    ax1.plot(xs, ys, 'x', color=BLUE, ms=4.5, mew=1.6, ls='none', zorder=2)
for xv in p1_sigma_lines:
    ax1.axvline(xv, color='red', ls=(0, (1, 1.6)), lw=1.0, zorder=3)
ax1.text(p1_sigma_lines[0]*0.985, -16.3, p1_sigma_labels[0], color='red',
         fontsize=11, ha='right', va='center')
ax1.text(p1_sigma_lines[1]*1.01, -16.3, p1_sigma_labels[1], color='red',
         fontsize=11, ha='left', va='center', clip_on=False)
labels(ax1, r1, r'$\mathrm{S}_{\mathsf{in}}$  [mJy]', 18, (283, 258), (28, 107))

# Panel 2
ax2, r2 = add_ax(687, 4, 1087, 202)
p2_minor = [200, 300, 400, 500, 600, 700, 800, 900, 2000, 3000, 4000, 5000, 6000,
            7000, 8000, 9000, 20000, 30000, 40000, 50000, 60000, 70000]
style(ax2, (141, 76000), (-25.2, 25.2), [1000, 10000], ['1000', '10$^4$'], p2_minor, 13)
for ys in [p2_y1, p2_y2, p2_y3, p2_y4]:
    dots(ax2, p2_cx, ys)
for ys in [p2_d1, p2_d2, p2_d3]:
    dots(ax2, p2_dx, ys)
dots(ax2, p2_mid_x, p2_mid_y)
dots(ax2, p2_out_x, p2_out_y)
bias_layer(ax2, p2_edges, p2_sq_x, p2_sq_y, p2_bias_x, p2_bias_y, p2_edges[-1], 1.8)
labels(ax2, r2, r'$\sigma_{\mathsf{galfit}}/\sigma_{\mathsf{rms\ noise}}$', 19.5,
       (881, 257), (613, 102), (1149, 103))

# Panel 3
ax3, r3 = add_ax(101, 309, 497, 507)
style(ax3, (8.08, 41.0), (-23.8, 23.7), [10], ['10'], [9, 20, 30, 40], 13)
for ys in [p3_y1, p3_y2, p3_y3, p3_y4]:
    dots(ax3, p3_cx, ys)
for ys in [p3_d1, p3_d2, p3_d3]:
    dots(ax3, p3_dx, ys)
dots(ax3, p3_out_x, p3_out_y)
bias_layer(ax3, p3_edges, p3_sq_x, p3_sq_y, p3_bias_x, p3_bias_y, p3_edges[-1], 1.1)
labels(ax3, r3, r'$\mathrm{f}_{\mathsf{residual}}/\sigma_{\mathsf{rms\ noise}}$', 19.5,
       (293, 561), (26, 407), (559, 407))

# Panel 4
ax4, r4 = add_ax(690, 309, 1089, 507)
style(ax4, (0.934, 4.28), (-23.8, 23.7), [1, 2, 3, 4], ['1', '2', '3', '4'], [], 13)
for ys in [p4_y1, p4_y2, p4_y3, p4_y4]:
    dots(ax4, p4_cx, ys)
for ys in [p4_d1, p4_d2, p4_d3]:
    dots(ax4, p4_dx, ys)
dots(ax4, p4_mid_x, p4_mid_y)
dots(ax4, p4_out_x, p4_out_y)
bias_layer(ax4, p4_edges, p4_sq_x, p4_sq_y, p4_bias_x, p4_bias_y, p4_edges[-1], -0.15)
labels(ax4, r4, 'crowdedness', 20, (883, 553), (615, 407), (1152, 407))

fig.savefig('out.png', dpi=100)
